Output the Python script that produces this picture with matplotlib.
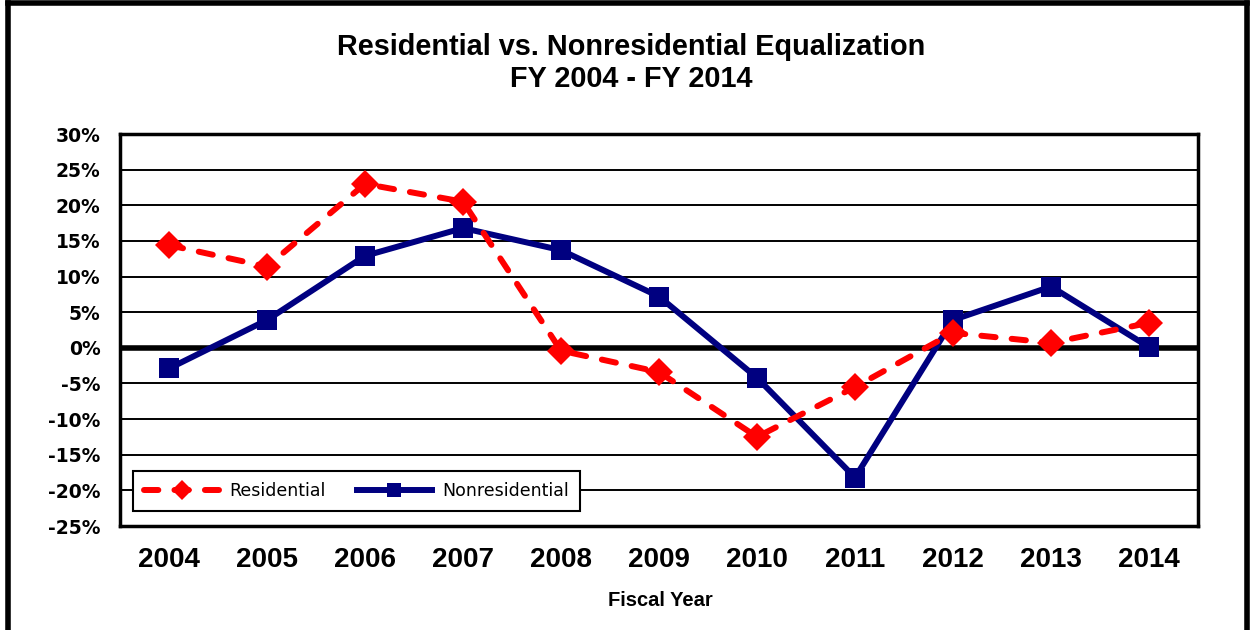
import matplotlib
matplotlib.use("Agg")
import matplotlib.pyplot as plt
from matplotlib.lines import Line2D
from matplotlib.ticker import FuncFormatter, MultipleLocator

years = ["2004", "2005", "2006", "2007", "2008", "2009", "2010", "2011", "2012", "2013", "2014"]
residential = [14.4, 11.4, 23.0, 20.5, -0.4, -3.4, -12.5, -5.5, 2.1, 0.7, 3.5]
nonresidential = [-2.9, 3.9, 12.9, 16.8, 13.7, 7.2, -4.2, -18.2, 3.9, 8.6, 0.1]

title = "Residential vs. Nonresidential Equalization\nFY 2004 - FY 2014"
xlabel = "Fiscal Year"

arial = ["Liberation Sans", "DejaVu Sans"]

fig = plt.figure(figsize=(12.54, 6.3), dpi=100)
ax = fig.add_axes([120/1254, 1-526/630, 1078/1254, 392/630])

x = list(range(len(years)))
ax.plot(x, residential, color="#ff0000", lw=4.3, linestyle=(0, (2.4, 2.7)),
        dash_capstyle="round", marker="D", markersize=14, markeredgewidth=0,
        label="Residential", zorder=4)
ax.plot(x, nonresidential, color="#000080", lw=4.3, marker="s", markersize=14,
        markeredgewidth=0, label="Nonresidential", zorder=3)

ax.set_xlim(-0.5, len(years) - 0.5)
ax.set_ylim(-25, 30)
ax.yaxis.set_major_locator(MultipleLocator(5))
ax.yaxis.set_major_formatter(FuncFormatter(lambda v, p: f"{int(round(v))}%"))
ax.set_xticks(x)
ax.set_xticklabels(years)
ax.grid(axis="y", color="black", lw=1.4, zorder=1)
ax.axhline(0, color="black", lw=4, zorder=2)
ax.tick_params(axis="both", length=0)
ax.tick_params(axis="y", pad=14)
ax.tick_params(axis="x", pad=15)
for lab in ax.get_yticklabels():
    lab.set_fontfamily("DejaVu Sans")
    lab.set_fontweight("bold")
    lab.set_fontsize(13.5)
for lab in ax.get_xticklabels():
    lab.set_fontfamily(arial)
    lab.set_fontweight("bold")
    lab.set_fontsize(20)
for s in ax.spines.values():
    s.set_linewidth(2.5)
    s.set_color("black")

leg = ax.legend(loc="lower left", bbox_to_anchor=(0.012, 0.038), borderaxespad=0,
                ncol=2, fancybox=False, framealpha=1, edgecolor="black",
                handlelength=4.3, handletextpad=0.6, columnspacing=1.8,
                prop={"family": "DejaVu Sans", "size": 12.5},
                borderpad=0.65, markerscale=0.7)
leg.get_frame().set_linewidth(1.5)
leg.set_zorder(5)

fig.text(0.503, 1-63/630, title, ha="center", va="center", fontsize=20.8,
         fontweight="bold", family=arial, linespacing=1.15)
fig.text(0.527, 1-601/630, xlabel, ha="center", va="center", fontsize=14.5,
         fontweight="bold", family=arial)

# figure border (left, top, right)
fig.add_artist(Line2D([8/1254, 8/1254], [0, 1-3/630], color="black", lw=4, transform=fig.transFigure))
fig.add_artist(Line2D([8/1254, 1247/1254], [1-3/630, 1-3/630], color="black", lw=4, transform=fig.transFigure))
fig.add_artist(Line2D([1247/1254, 1247/1254], [0, 1-3/630], color="black", lw=4, transform=fig.transFigure))

fig.savefig("out.png", dpi=100, facecolor="white")
